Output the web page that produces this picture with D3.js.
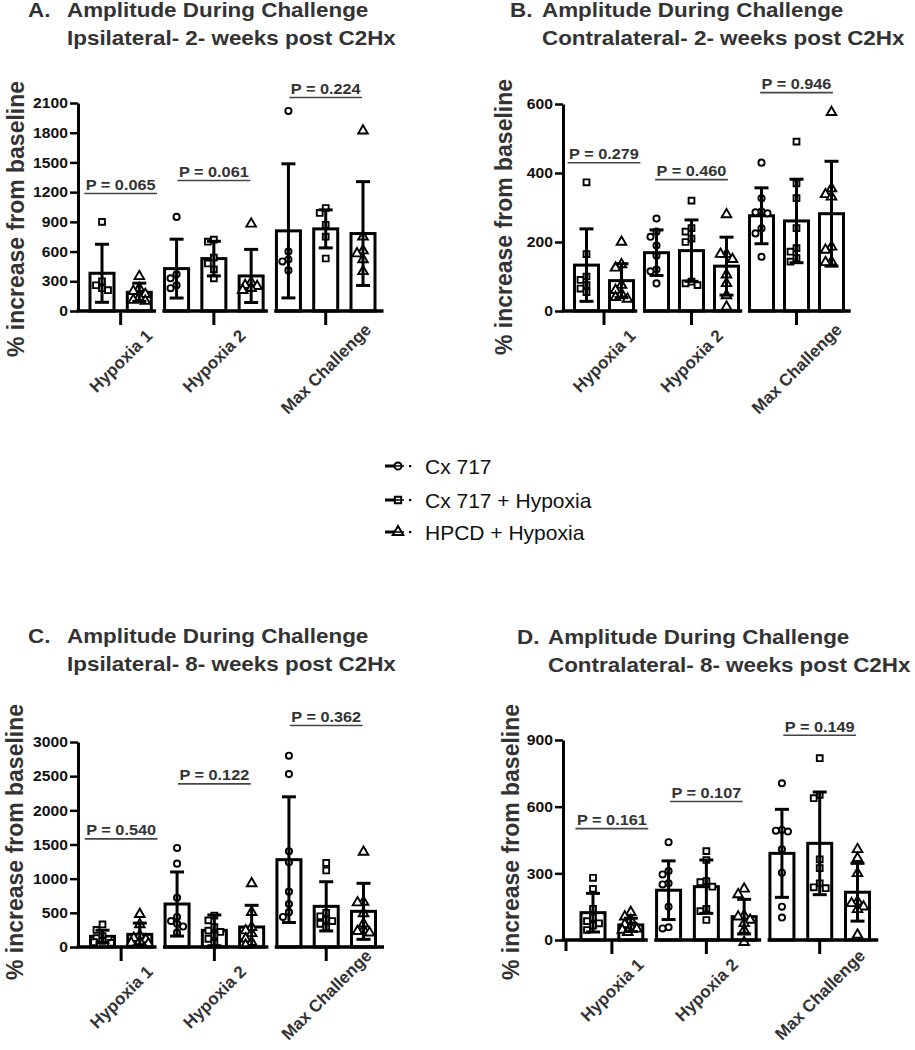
<!DOCTYPE html>
<html><head><meta charset="utf-8">
<script src="https://cdnjs.cloudflare.com/ajax/libs/d3/7.8.5/d3.min.js"></script>
<style>body{margin:0;background:#fff;} svg{display:block;}</style>
</head><body>
<svg id="chart" width="915" height="1050"></svg>
<script>
// ---------------- DATA ----------------
const categories = ["Hypoxia 1", "Hypoxia 2", "Max Challenge"];
const seriesNames = ["Cx 717", "Cx 717 + Hypoxia", "HPCD + Hypoxia"];
// series present in each category (Hypoxia 1 has no Cx 717 alone)
const groupSeries = [[1, 2], [0, 1, 2], [0, 1, 2]];

// Panel A: Ipsilateral, 2 weeks
const ticksA = [0, 300, 600, 900, 1200, 1500, 1800, 2100];
const meanA = [[381, 189], [428, 529, 354], [809, 829, 782]];
const sdA = [[293, 92], [297, 175, 268], [677, 192, 524]];
const pointsA = [
  [[900, 300, 260, 230, 210], [350, 230, 200, 170, 140, 110, 100]],
  [[950, 370, 330, 260, 230], [720, 700, 540, 480, 420, 330], [880, 290, 260, 250, 230, 210]],
  [[2020, 600, 520, 500, 410], [1040, 990, 870, 750, 530], [1820, 750, 610, 580, 520, 400]]
];
const pTextA = ["P = 0.065", "P = 0.061", "P = 0.224"];
const pLevelA = [1222, 1353, 2191];

// Panel B: Contralateral, 2 weeks
const ticksB = [0, 200, 400, 600];
const meanB = [[133, 88], [169, 175, 130], [276, 261, 282]];
const sdB = [[105, 49], [66, 89, 84], [81, 121, 152]];
const pointsB = [
  [[373, 165, 100, 90, 75, 65, 55], [200, 135, 125, 75, 60, 50, 40, 35]],
  [[268, 230, 215, 190, 160, 120, 115, 80], [320, 240, 230, 210, 200, 85, 80, 75], [280, 165, 165, 150, 105, 80, 45, 12]],
  [[430, 327, 288, 286, 283, 240, 225, 157], [491, 370, 327, 240, 182, 172, 153, 143], [576, 355, 338, 331, 186, 177, 143, 141]]
];
const pTextB = ["P = 0.279", "P = 0.460", "P = 0.946"];
const pLevelB = [440, 391, 643];

// Panel C: Ipsilateral, 8 weeks
const ticksC = [0, 500, 1000, 1500, 2000, 2500, 3000];
const meanC = [[156, 185], [629, 244, 293], [1278, 595, 522]];
const sdC = [[90, 165], [469, 225, 317], [920, 360, 410]];
const pointsC = [
  [[330, 250, 160, 130, 110, 90, 70, 60], [480, 330, 170, 130, 110, 80, 60, 50]],
  [[1450, 1220, 720, 440, 380, 340, 300, 210], [460, 390, 290, 240, 220, 170, 120, 60], [930, 510, 290, 240, 200, 120, 70, 30]],
  [[2800, 2530, 1400, 1240, 810, 630, 510, 440], [1230, 1120, 500, 450, 400, 380, 340, 290], [1390, 660, 650, 490, 340, 250, 230, 210]]
];
const pTextC = ["P = 0.540", "P = 0.122", "P = 0.362"];
const pLevelC = [1634, 2439, 3292];

// Panel D: Contralateral, 8 weeks
const ticksD = [0, 300, 600, 900];
const meanD = [[123, 68], [224, 240, 105], [390, 435, 215]];
const sdD = [[87, 30], [132, 120, 78], [198, 231, 130]];
const pointsD = [
  [[280, 230, 140, 100, 85, 75, 65, 45], [125, 105, 90, 70, 60, 50, 45, 35]],
  [[440, 310, 295, 255, 250, 150, 57, 52], [400, 360, 265, 260, 240, 140, 130, 90], [230, 205, 110, 105, 90, 75, 45, -10]],
  [[705, 495, 492, 488, 408, 303, 150, 101], [818, 653, 638, 363, 323, 255, 237, 233], [408, 368, 300, 173, 165, 150, 138, 23]]
];
const pTextD = ["P = 0.161", "P = 0.107", "P = 0.149"];
const pLevelD = [517, 639, 937];

const titleLetters = ["A.", "B.", "C.", "D."];
const titleLine1 = "Amplitude During Challenge";
const titleLine2 = ["Ipsilateral- 2- weeks post C2Hx", "Contralateral- 2- weeks post C2Hx",
                    "Ipsilateral- 8- weeks post C2Hx", "Contralateral- 8- weeks post C2Hx"];
const yAxisTitle = "% increase from baseline";

// ---------------- LAYOUT ----------------
const FONT = "'Liberation Sans', Arial, Helvetica, sans-serif";
const panels = [
  {ticks: ticksA, means: meanA, sds: sdA, points: pointsA, pText: pTextA, pLevel: pLevelA,
   letterX: 28, textX: 67, titleY: 17, axisX: 78, y0: 311, y1: 103, slot0: 102, slot7: 363, yTitleX: 24, yTitleY: 219},
  {ticks: ticksB, means: meanB, sds: sdB, points: pointsB, pText: pTextB, pLevel: pLevelB,
   letterX: 510, textX: 542, titleY: 17, axisX: 563, y0: 311, y1: 104, slot0: 586.5, slot7: 831.5, yTitleX: 512, yTitleY: 217},
  {ticks: ticksC, means: meanC, sds: sdC, points: pointsC, pText: pTextC, pLevel: pLevelC,
   letterX: 28, textX: 67, titleY: 643, axisX: 78, y0: 947, y1: 742, slot0: 102.5, slot7: 363.5, yTitleX: 23, yTitleY: 842},
  {ticks: ticksD, means: meanD, sds: sdD, points: pointsD, pText: pTextD, pLevel: pLevelD,
   letterX: 517, textX: 548, titleY: 644, axisX: 563, y0: 940, y1: 740, slot0: 593, slot7: 857.5, yTitleX: 519, yTitleY: 842, leftTick: true}
];

const svg = d3.select("#chart");
const symbolTypes = [d3.symbolCircle, d3.symbolSquare, d3.symbolTriangle];
const symbolSizes = [30, 34, 40];

function stretch(sel, x, y, sx) {
  sel.attr("x", 0).attr("y", 0).attr("transform", `translate(${x},${y}) scale(${sx},1)`);
}

panels.forEach((p, pi) => {
  const g = svg.append("g");
  const yMax = p.ticks[p.ticks.length - 1];
  const yS = d3.scaleLinear().domain([0, yMax]).range([p.y0, p.y1]);
  const slot = d3.scaleLinear().domain([0, 7]).range([p.slot0, p.slot7]);

  let k = 0;
  const groupSlots = groupSeries.map(s => s.map(() => k++));

  // Titles
  const tt = g.append("g").attr("font-family", FONT).attr("font-weight", "bold")
    .attr("font-size", 19.5).attr("fill", "#333");
  stretch(tt.append("text").text(titleLetters[pi]), p.letterX, p.titleY, 1.15);
  stretch(tt.append("text").text(titleLine1), p.textX, p.titleY, 1.15);
  stretch(tt.append("text").text(titleLine2[pi]), p.textX, p.titleY + 27.5, 1.15);

  // Y axis title
  g.append("text").text(yAxisTitle)
    .attr("font-family", FONT).attr("font-weight", "bold").attr("font-size", 23)
    .attr("fill", "#333").attr("text-anchor", "middle")
    .attr("transform", `translate(${p.yTitleX},${p.yTitleY}) rotate(-90)`);

  // Bars
  groupSeries.forEach((sers, gi) => {
    sers.forEach((s, j) => {
      const cx = slot(groupSlots[gi][j]);
      const m = p.means[gi][j];
      g.append("rect")
        .attr("x", cx - 12).attr("width", 24)
        .attr("y", yS(m)).attr("height", p.y0 - yS(m))
        .attr("fill", "#fff").attr("stroke", "#000").attr("stroke-width", 3);
    });
  });

  // Points (beeswarm-like placement to avoid overlap)
  const cand = [0, -6, 6, -3, 3, -8.5, 8.5];
  groupSeries.forEach((sers, gi) => {
    sers.forEach((s, j) => {
      const cx = slot(groupSlots[gi][j]);
      const vals = p.points[gi][j].slice().sort((a, b) => b - a);
      const placed = [];
      vals.forEach(v => {
        const y = yS(v);
        let best = null, bestD = -1;
        for (const c of cand) {
          const dmin = placed.length ? d3.min(placed, q => Math.hypot(q.x - (cx + c), q.y - y)) : 99;
          if (dmin >= 6) { best = c; bestD = dmin; break; }
          if (dmin > bestD) { bestD = dmin; best = c; }
        }
        placed.push({x: cx + best, y: y});
      });
      placed.forEach(q => {
        g.append("path")
          .attr("d", d3.symbol().type(symbolTypes[s]).size(symbolSizes[s])())
          .attr("transform", `translate(${q.x},${q.y})`)
          .attr("fill", "#fff").attr("stroke", "#000").attr("stroke-width", 1.9);
      });
    });
  });

  // Error bars
  groupSeries.forEach((sers, gi) => {
    sers.forEach((s, j) => {
      const cx = slot(groupSlots[gi][j]);
      const m = p.means[gi][j], sd = p.sds[gi][j];
      const lo = Math.max(0, m - sd), hi = m + sd;
      const eg = g.append("g").attr("stroke", "#000").attr("stroke-width", 3);
      eg.append("line").attr("x1", cx).attr("x2", cx).attr("y1", yS(lo)).attr("y2", yS(hi));
      eg.append("line").attr("x1", cx - 7).attr("x2", cx + 7).attr("y1", yS(hi)).attr("y2", yS(hi));
      if (m - sd > 0) eg.append("line").attr("x1", cx - 7).attr("x2", cx + 7).attr("y1", yS(lo)).attr("y2", yS(lo));
    });
  });

  // Y axis
  const ax = g.append("g").attr("transform", `translate(${p.axisX},0)`)
    .call(d3.axisLeft(yS).tickValues(p.ticks).tickSize(8).tickSizeOuter(0).tickFormat(d3.format("d")));
  ax.select(".domain").attr("stroke", "#000").attr("stroke-width", 3);
  ax.selectAll(".tick line").attr("stroke", "#000").attr("stroke-width", 2.5);
  ax.selectAll(".tick text").each(function() {
    const t = d3.select(this);
    t.attr("dy", null);
    stretch(t, -10, 0, 1.12);
  }).attr("dominant-baseline", "central")
    .attr("font-family", FONT).attr("font-weight", "bold").attr("font-size", 14).attr("fill", "#111");

  // X baseline segments + group ticks
  const last = groupSlots.length - 1;
  groupSlots.forEach((sl, gi) => {
    const xa = gi === 0 ? p.axisX - 1.5 : slot(sl[0] - 0.38);
    const xb = slot(sl[sl.length - 1] + (gi === last ? 0.55 : 0.45));
    g.append("line").attr("x1", xa).attr("x2", xb).attr("y1", p.y0).attr("y2", p.y0)
      .attr("stroke", "#000").attr("stroke-width", 3.5);
    const tx = slot(d3.mean(sl));
    g.append("line").attr("x1", tx).attr("x2", tx).attr("y1", p.y0).attr("y2", p.y0 + 14)
      .attr("stroke", "#000").attr("stroke-width", 3);

    // Category labels (rotated, centred on the tick)
    const lab = g.append("text").text(categories[gi])
      .attr("font-family", FONT).attr("font-weight", "bold").attr("font-size", 17)
      .attr("fill", "#333").attr("text-anchor", "end");
    const L = lab.node().getComputedTextLength();
    const h = 0.72 * 17;
    const px = tx + 0.354 * (L + h);
    let top = p.y0 + 29.5 - 0.155 * L;
    const bottom = top + 0.707 * h + 0.707 * L + 3;
    if (bottom > 1044) top -= (bottom - 1044);
    const py = top + 0.707 * h;
    lab.attr("transform", `translate(${px},${py}) rotate(-45)`);

    // P value labels
    const pt = g.append("text").text(p.pText[gi])
      .attr("font-family", FONT).attr("font-weight", "bold").attr("font-size", 15.5)
      .attr("fill", "#333").attr("text-anchor", "middle");
    const py2 = yS(p.pLevel[gi]);
    stretch(pt, tx, py2, 1.05);
    const w = pt.node().getComputedTextLength() * 1.05;
    g.append("line").attr("x1", tx - w / 2 - 1.5).attr("x2", tx + w / 2 + 1.5)
      .attr("y1", py2 + 3.5).attr("y2", py2 + 3.5).attr("stroke", "#444").attr("stroke-width", 1.6);
  });
  if (p.leftTick) {
    g.append("line").attr("x1", p.axisX + 3).attr("x2", p.axisX + 3).attr("y1", p.y0).attr("y2", p.y0 + 11)
      .attr("stroke", "#000").attr("stroke-width", 3);
  }
});

// Legend
const legY = [466, 500, 532];
const lg = svg.append("g");
seriesNames.forEach((name, i) => {
  const y = legY[i];
  lg.append("line").attr("x1", 385).attr("x2", 395).attr("y1", y).attr("y2", y)
    .attr("stroke", "#000").attr("stroke-width", 3);
  lg.append("path").attr("d", d3.symbol().type(symbolTypes[i]).size(i === 2 ? 48 : 40)())
    .attr("transform", `translate(398,${y})`)
    .attr("fill", "#fff").attr("stroke", "#000").attr("stroke-width", 2);
  lg.append("line").attr("x1", 393).attr("x2", 404).attr("y1", y).attr("y2", y)
    .attr("stroke", "#000").attr("stroke-width", 1.5);
  lg.append("rect").attr("x", 409).attr("y", y - 1).attr("width", 2.2).attr("height", 2.2).attr("fill", "#000");
  lg.append("text").text(name).attr("x", 425).attr("y", y + 7.5)
    .attr("font-family", FONT).attr("font-size", 21).attr("fill", "#111");
});
</script>
</body></html>
